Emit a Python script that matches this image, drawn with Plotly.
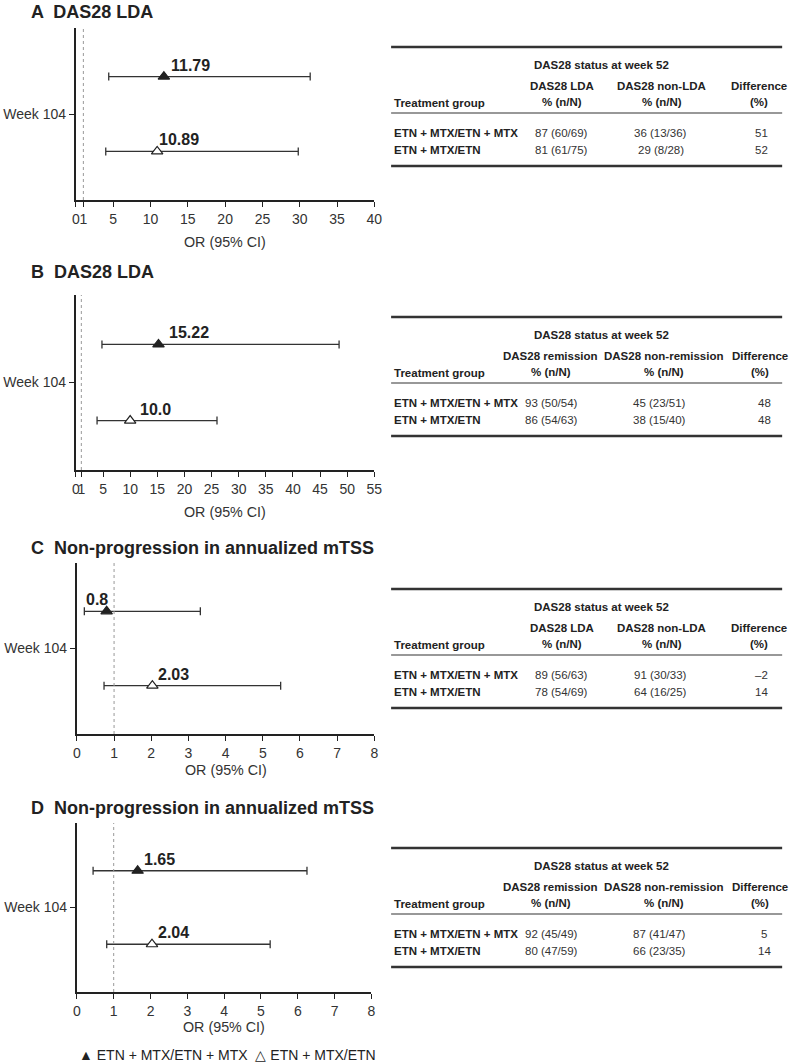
import plotly.graph_objects as go

W, H = 800, 1063

# ---------------- data ----------------
panel_titles = ["A  DAS28 LDA", "B  DAS28 LDA",
                "C  Non-progression in annualized mTSS",
                "D  Non-progression in annualized mTSS"]
groups = ["ETN + MTX/ETN + MTX", "ETN + MTX/ETN"]
row_label = "Week 104"
x_title = "OR (95% CI)"

or_A = [11.79, 10.89]; lo_A = [4.4, 4.0]; hi_A = [31.4, 29.8]; lab_A = ["11.79", "10.89"]
or_B = [15.22, 10.0]; lo_B = [4.8, 3.9]; hi_B = [48.5, 26.0]; lab_B = ["15.22", "10.0"]
or_C = [0.8, 2.03]; lo_C = [0.2, 0.73]; hi_C = [3.32, 5.48]; lab_C = ["0.8", "2.03"]
or_D = [1.65, 2.04]; lo_D = [0.44, 0.81]; hi_D = [6.25, 5.25]; lab_D = ["1.65", "2.04"]

ticks_A = [0, 1, 5, 10, 15, 20, 25, 30, 35, 40]
ticks_B = [0, 1, 5, 10, 15, 20, 25, 30, 35, 40, 45, 50, 55]
ticks_CD = [0, 1, 2, 3, 4, 5, 6, 7, 8]
ref_line = 1

table_title = "DAS28 status at week 52"
first_col = "Treatment group"
hdr_lda = ["DAS28 LDA", "DAS28 non-LDA", "Difference"]
hdr_rem = ["DAS28 remission", "DAS28 non-remission", "Difference"]
hdr_sub = ["% (n/N)", "% (n/N)", "(%)"]
tab_A = [["87 (60/69)", "36 (13/36)", "51"], ["81 (61/75)", "29 (8/28)", "52"]]
tab_B = [["93 (50/54)", "45 (23/51)", "48"], ["86 (54/63)", "38 (15/40)", "48"]]
tab_C = [["89 (56/63)", "91 (30/33)", "\u20132"], ["78 (54/69)", "64 (16/25)", "14"]]
tab_D = [["92 (45/49)", "87 (41/47)", "5"], ["80 (47/59)", "66 (23/35)", "14"]]

legend_text = "\u25B2 ETN + MTX/ETN + MTX  \u25B3 ETN + MTX/ETN"

# ---------------- styles / layout geometry (pixels) ----------------
FONT = "Liberation Sans, Arial, sans-serif"
DARK = "#222222"
LDA_H, LDA_V = [567, 668, 767], [566, 667, 769]
REM_H, REM_V = [555, 670, 768], [556, 665, 772]
panels = [
    dict(title=panel_titles[0], title_y=12, x0=73, x1=376, top=28, bot=200, xmax=40, ticks=ticks_A,
         orv=or_A, lo=lo_A, hi=hi_A, lab=lab_A, anchors=[("left", 5), ("left", 0)], xt_y=242,
         tab=tab_A, hdr=hdr_lda, ttop=47, cols=LDA_H, vcols=LDA_V),
    dict(title=panel_titles[1], title_y=272, x0=73, x1=376, top=295, bot=470, xmax=55, ticks=ticks_B,
         orv=or_B, lo=lo_B, hi=hi_B, lab=lab_B, anchors=[("left", 9), ("left", 8)], xt_y=512,
         tab=tab_B, hdr=hdr_rem, ttop=317, cols=REM_H, vcols=REM_V),
    dict(title=panel_titles[2], title_y=548, x0=74, x1=376, top=563, bot=734, xmax=8, ticks=ticks_CD,
         orv=or_C, lo=lo_C, hi=hi_C, lab=lab_C, anchors=[("right", 3), ("left", 4)], xt_y=770,
         tab=tab_C, hdr=hdr_lda, ttop=589, cols=LDA_H, vcols=LDA_V),
    dict(title=panel_titles[3], title_y=808, x0=74, x1=373, top=823, bot=992, xmax=8, ticks=ticks_CD,
         orv=or_D, lo=lo_D, hi=hi_D, lab=lab_D, anchors=[("left", 4), ("left", 4)], xt_y=1027,
         tab=tab_D, hdr=hdr_rem, ttop=848, cols=REM_H, vcols=REM_V),
]
YPOS = [1, 0]
YRANGE = [-0.65, 1.65]


def px(xp):
    return xp / W


def py(yp):
    return 1 - yp / H


fig = go.Figure()
annotations = []
shapes = []
layout_axes = {}

for i, p in enumerate(panels):
    n = "" if i == 0 else str(i + 1)
    xa, ya = "x" + n, "y" + n
    fill_colors = [DARK, "white"]
    for k in range(2):
        fig.add_trace(go.Scatter(
            x=[p["orv"][k]], y=[YPOS[k]], xaxis=xa, yaxis=ya, mode="markers",
            marker=dict(symbol="triangle-up", size=10, color=fill_colors[k],
                        line=dict(color=DARK, width=1.2)),
            error_x=dict(type="data", symmetric=False,
                         array=[p["hi"][k] - p["orv"][k]],
                         arrayminus=[p["orv"][k] - p["lo"][k]],
                         color="#333333", thickness=1.3, width=4),
            showlegend=False, name=groups[k], hoverinfo="skip"))
        anc, shift = p["anchors"][k]
        annotations.append(dict(
            x=p["orv"][k], y=YPOS[k], xref=xa, yref=ya, text="<b>" + p["lab"][k] + "</b>",
            showarrow=False, xanchor=anc, yanchor="bottom", xshift=shift, yshift=1,
            font=dict(family=FONT, size=16, color=DARK)))
    ticktext = [str(t) for t in p["ticks"]]
    layout_axes["xaxis" + n] = dict(
        domain=[px(p["x0"]), px(p["x1"])], range=[0, p["xmax"]], anchor=ya,
        tickvals=p["ticks"], ticktext=ticktext, tickangle=0, ticks="outside", ticklen=5,
        tickwidth=1.3, tickcolor=DARK, showline=True, linecolor=DARK, linewidth=2,
        showgrid=False, zeroline=False,
        tickfont=dict(family=FONT, size=14, color="#333333"), fixedrange=True)
    layout_axes["yaxis" + n] = dict(
        domain=[py(p["bot"]), py(p["top"])], range=YRANGE, anchor=xa,
        tickvals=[0.5], ticktext=[row_label], ticks="outside", ticklen=5, tickwidth=1.3,
        tickcolor=DARK, showline=True, linecolor=DARK, linewidth=2, showgrid=False,
        zeroline=False, tickfont=dict(family=FONT, size=14, color="#333333"), fixedrange=True)
    shapes.append(dict(type="line", xref=xa, yref=ya + " domain", x0=ref_line, x1=ref_line,
                       y0=0, y1=1, line=dict(color="#999999", width=1, dash="dot")))
    annotations.append(dict(x=px(25), y=py(p["title_y"]), xref="paper", yref="paper",
                            text="<b>" + p["title"] + "</b>", showarrow=False,
                            xanchor="left", yanchor="middle",
                            font=dict(family=FONT, size=18, color=DARK)))
    annotations.append(dict(x=px((p["x0"] + p["x1"]) / 2), y=py(p["xt_y"]), xref="paper",
                            yref="paper", text=x_title, showarrow=False, xanchor="center",
                            yanchor="middle", font=dict(family=FONT, size=14.3, color="#333333")))

    # ---------- table ----------
    t0 = p["ttop"]
    tl, tr = 393, 790
    for yy, w in [(t0, 2.5), (t0 + 66, 1.2), (t0 + 119, 2.5)]:
        shapes.append(dict(type="line", xref="paper", yref="paper", x0=px(tl), x1=px(tr),
                           y0=py(yy), y1=py(yy), line=dict(color="#333333", width=w)))
    tf = dict(family=FONT, size=11.5, color=DARK)
    annotations.append(dict(x=px(607), y=py(t0 + 18), xref="paper", yref="paper",
                            text="<b>" + table_title + "</b>", showarrow=False,
                            xanchor="center", yanchor="middle", font=tf))
    annotations.append(dict(x=px(394), y=py(t0 + 56), xref="paper", yref="paper",
                            text="<b>" + first_col + "</b>", showarrow=False,
                            xanchor="left", yanchor="middle", font=tf))
    for c in range(3):
        annotations.append(dict(x=px(p["cols"][c]), y=py(t0 + 39), xref="paper", yref="paper",
                                text="<b>" + p["hdr"][c] + "</b>", showarrow=False,
                                xanchor="center", yanchor="middle", font=tf))
        annotations.append(dict(x=px(p["cols"][c]), y=py(t0 + 55), xref="paper", yref="paper",
                                text="<b>" + hdr_sub[c] + "</b>", showarrow=False,
                                xanchor="center", yanchor="middle", font=tf))
    for r in range(2):
        ry = t0 + 86 + 17 * r
        annotations.append(dict(x=px(394), y=py(ry), xref="paper", yref="paper",
                                text="<b>" + groups[r] + "</b>", showarrow=False,
                                xanchor="left", yanchor="middle", font=tf))
        for c in range(3):
            annotations.append(dict(x=px(p["vcols"][c]), y=py(ry), xref="paper", yref="paper",
                                    text=p["tab"][r][c], showarrow=False,
                                    xanchor="center", yanchor="middle",
                                    font=dict(family=FONT, size=11.5, color="#333333")))

annotations.append(dict(x=px(227), y=py(1055), xref="paper", yref="paper", text=legend_text,
                        showarrow=False, xanchor="center", yanchor="middle",
                        font=dict(family=FONT, size=14, color=DARK)))

fig.update_layout(
    width=W, height=H, margin=dict(l=0, r=0, t=0, b=0),
    paper_bgcolor="white", plot_bgcolor="white", showlegend=False,
    annotations=annotations, shapes=shapes, **layout_axes)

fig.write_html(
    "out.html",
    config={"displayModeBar": False},
    post_script=("document.body.style.margin='0';"
                 "document.body.style.overflow='hidden';"
                 "document.documentElement.style.overflow='hidden';"))
